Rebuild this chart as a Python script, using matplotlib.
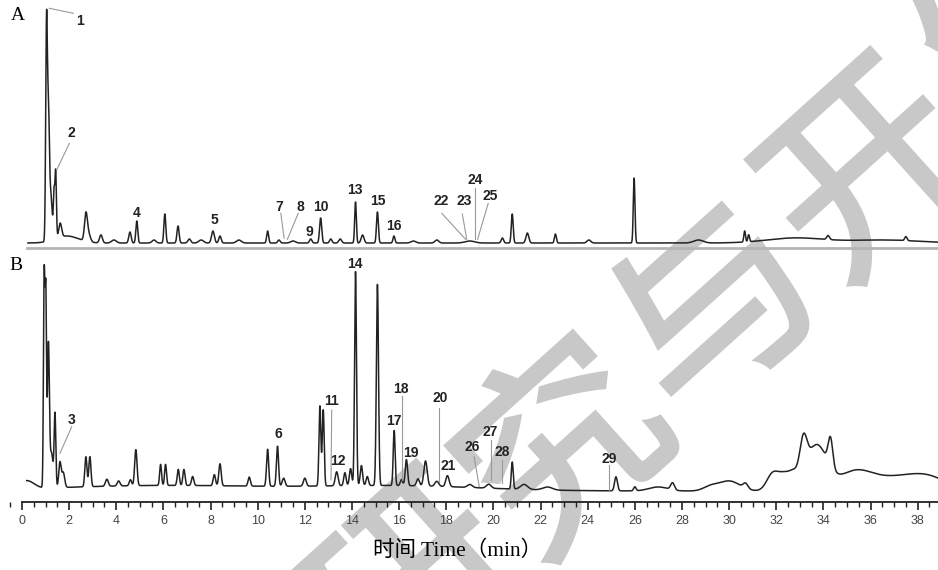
import numpy as np
import matplotlib
matplotlib.use("Agg")
import matplotlib.pyplot as plt
import matplotlib.patheffects as pe
from matplotlib.ticker import MultipleLocator

# peak tables (retention time min, height, width min)
a_rt = [1.04, 1.12, 1.22, 1.36, 1.43, 1.62, 1.9, 2.71, 2.82, 3.35,
        3.9, 4.58, 4.87, 5.6, 6.06, 6.62, 7.1, 7.6, 8.10, 8.40,
        9.2, 10.42, 10.9, 11.5, 12.25, 12.67, 13.1, 13.5, 14.15, 14.45,
        15.08, 15.78, 16.6, 17.6, 19.0, 20.38, 20.80, 21.44, 22.63, 24.05,
        25.97, 28.7, 30.66, 30.83, 32.8, 34.2, 36.5, 37.5]
a_h = [213, 120, 45, 45, 66, 14, 7, 26, 8, 8,
       3, 11, 22, 3, 29, 17, 4, 3, 12, 7,
       3, 12, 3, 2, 4, 25, 4, 4, 41, 8,
       31, 7, 2, 3, 2, 5, 29, 10, 9, 3,
       65, 3, 11, 7, 5, 4, 3, 4]
a_w = [.035, .04, .06, .03, .03, .06, .5, .06, .08, .06,
       .1, .05, .04, .08, .04, .045, .06, .1, .06, .05,
       .1, .04, .05, .1, .05, .045, .05, .06, .035, .06,
       .04, .04, .1, .08, .2, .05, .04, .06, .04, .08,
       .035, .2, .035, .035, 1.2, .06, 1.5, .05]

b_rt = [0.2, 0.94, 1.01, 1.12, 1.25, 1.40, 1.61, 1.75, 2.71, 2.88,
        3.6, 4.1, 4.6, 4.83, 5.88, 6.09, 6.63, 6.87, 7.24, 8.16,
        8.40, 9.64, 10.42, 10.84, 11.1, 12.0, 12.64, 12.78, 13.35, 13.70,
        13.94, 14.15, 14.40, 14.65, 15.08, 15.79, 16.1, 16.31, 16.8, 17.12,
        17.6, 18.05, 19.0, 19.8, 20.80, 21.3, 22.3, 25.2, 26.0, 27.0,
        27.6, 29.2, 30.0, 30.7, 31.85, 32.35, 32.75, 33.15, 33.7, 34.3,
        35.3, 37.0, 38.5]
b_h = [8, 208, 190, 140, 35, 72, 25, 15, 30, 30,
       7, 5, 6, 36, 21, 21, 16, 16, 9, 11,
       22, 9, 37, 40, 8, 8, 80, 76, 14, 13,
       17, 214, 20, 9, 201, 55, 6, 26, 7, 25,
       5, 11, 3, 4, 27, 5, 3, 14, 4, 4,
       7, 4, 10, 5, 17, 15, 12, 34, 45, 29,
       16, 13, 10]
b_w = [.3, .03, .03, .04, .07, .035, .05, .06, .045, .045,
       .06, .06, .05, .05, .04, .04, .045, .045, .05, .05,
       .05, .05, .045, .045, .06, .06, .04, .04, .06, .05,
       .05, .04, .05, .05, .045, .04, .05, .05, .06, .07,
       .08, .07, .1, .1, .04, .15, .2, .06, .05, .4,
       .08, .3, .45, .1, .25, .25, .2, .15, .45, .1,
       .7, 1.2, .8]
# slow baseline drift of trace B
b_drift_rt = [6.0, 16.0]
b_drift_h = [5.5, 5.0]
b_drift_w = [4.5, 3.5]

labels_a = [("1", 2.46, 222), ("2", 2.08, 110), ("4", 4.88, 30), ("5", 8.15, 23),
            ("7", 10.9, 36), ("8", 11.79, 36), ("9", 12.18, 11), ("10", 12.69, 36),
            ("13", 14.13, 53), ("15", 15.1, 42), ("16", 15.78, 17), ("22", 17.78, 42),
            ("23", 18.75, 42), ("24", 19.22, 63), ("25", 19.86, 47)]
leaders_a = [(1.16, 234.7, 2.18, 229.7), (2.01, 99.7, 1.47, 73), (10.98, 29.7, 11.12, 4.7),
             (11.72, 29.7, 11.26, 3.7), (17.81, 29.7, 18.82, 3.7), (18.68, 29, 18.87, 3.7),
             (19.22, 54.7, 19.22, 3.7), (19.78, 39.7, 19.33, 3.7)]
labels_b = [("3", 2.12, 71), ("6", 10.86, 57), ("11", 13.11, 90), ("12", 13.41, 30),
            ("14", 14.13, 227), ("17", 15.78, 70), ("18", 16.08, 102), ("19", 16.5, 38),
            ("20", 17.73, 93), ("21", 18.07, 25), ("26", 19.09, 44), ("27", 19.86, 59),
            ("28", 20.36, 39), ("29", 24.9, 32)]
leaders_b = [(2.11, 64.3, 1.61, 37.7), (13.14, 81, 13.11, 11), (16.11, 95, 16.11, 11),
             (17.7, 83, 17.7, 9), (19.18, 34.3, 19.4, 4.3), (19.89, 51, 19.89, 11),
             (20.38, 31, 20.38, 8), (24.92, 26, 24.92, 1)]


def trace(t, rt, h, w):
    y = np.zeros_like(t)
    for r, a, s in zip(rt, h, w):
        y += a * np.exp(-0.5 * ((t - r) / s) ** 2)
    return y


t_a = np.linspace(0.25, 38.9, 9000)
t_b = np.linspace(0.2, 38.9, 9000)
y_a = trace(t_a, a_rt, a_h, a_w)
y_b = trace(t_b, b_rt, b_h, b_w) + trace(t_b, b_drift_rt, b_drift_h, b_drift_w)

W, H = 938, 570
fig = plt.figure(figsize=(W / 100, H / 100), dpi=100)
xl = (-22 / 23.57, (W - 22) / 23.57)

axA = fig.add_axes([0, 1 - 252 / H, 1, 252 / H])
axB = fig.add_axes([0, 1 - 502 / H, 1, 250 / H])
for ax in (axA, axB):
    ax.set_facecolor("none")
    ax.set_xlim(*xl)
    for s in ax.spines.values():
        s.set_visible(False)
axA.set_ylim(-9, 243)
axB.set_ylim(-11, 239)
axA.set_xticks([])
axA.set_yticks([])
axB.set_yticks([])

axA.plot(t_a, y_a, color="#222222", lw=1.1)
axB.plot(t_b, y_b, color="#222222", lw=1.1)
axA.axhline(-5, xmin=27 / W, xmax=1, color="#b5b5b5", lw=2)

# x axis at the bottom of trace B
axB.spines["bottom"].set_visible(True)
axB.spines["bottom"].set_bounds(0, xl[1])
axB.spines["bottom"].set_linewidth(1.3)
axB.spines["bottom"].set_color("#222222")
axB.xaxis.set_major_locator(MultipleLocator(2))
axB.xaxis.set_minor_locator(MultipleLocator(0.5))
axB.tick_params(axis="x", which="major", length=6, width=1.2, color="#222222",
                pad=3, labelsize=9, labelcolor="#444444")
axB.tick_params(axis="x", which="minor", length=3.5, width=1, color="#222222")
for lab in axB.get_xticklabels():
    lab.set_family("Liberation Sans")

lab_style = dict(ha="center", va="center", fontsize=10, fontweight="bold",
                 family="Liberation Sans", color="#222222")
for ax, labs, leads in ((axA, labels_a, leaders_a), (axB, labels_b, leaders_b)):
    for txt, x, y in labs:
        ax.text(x, y, txt, **lab_style)
    for x0, y0, x1, y1 in leads:
        ax.plot([x0, x1], [y0, y1], color="#999999", lw=0.8)

fig.text(18 / W, 1 - 15 / H, "A", family="Liberation Serif", fontsize=14,
         ha="center", va="center")
fig.text(16 / W, 1 - 265 / H, "B", family="Liberation Serif", fontsize=14,
         ha="center", va="center")
fig.text(458 / W, 1 - 551 / H, "时间 Time（min）", family=["Liberation Serif", "Noto Sans CJK SC"],
         fontsize=15.5, ha="center", va="center")

# watermark
for ch, px, py in zip("研究与开发", [418, 570, 722, 874, 1026], [595, 456, 317, 178, 39]):
    fig.text(px / W, 1 - py / H, ch, family="Noto Sans CJK SC",
             fontsize=145, color="#c8c8c8", rotation=42, ha="center", va="center",
             rotation_mode="anchor", zorder=-1,
             path_effects=[pe.withStroke(linewidth=3, foreground="#c8c8c8",
                                         joinstyle="miter")])

fig.savefig("out.png", dpi=100)
